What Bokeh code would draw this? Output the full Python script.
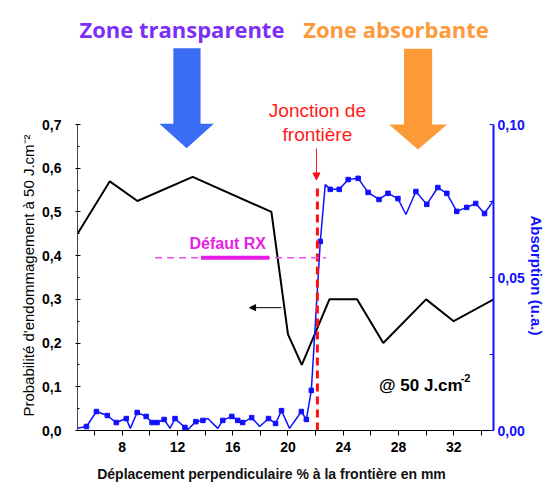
from bokeh.plotting import figure
from bokeh.models import (Range1d, LinearAxis, FixedTicker, CustomJSTickFormatter,
                          Label, Arrow, NormalHead)
from bokeh.embed import file_html
from bokeh.resources import INLINE

# ---------------- data ----------------
# damage probability at 50 J/cm2 (left axis)
prob_x = [4.76, 7.1, 9.1, 13.1, 18.8, 20.0, 21.0, 23.0, 25.0, 26.9, 30.0, 32.0, 34.9]
prob_y = [0.45, 0.57, 0.525, 0.58, 0.50, 0.22, 0.15, 0.30, 0.30, 0.20, 0.30, 0.25, 0.30]

# absorption (right axis)
abs_x = [4.76, 5.41, 6.13, 6.92, 7.57, 8.29, 8.58, 9.08, 9.73, 10.16, 10.52, 11.03, 11.46,
         11.82, 12.54, 12.76, 13.33, 13.84, 14.20, 14.92, 15.28, 15.93, 16.36, 16.72,
         17.37, 17.95, 18.59, 19.10, 19.53, 20.11, 20.97, 21.33, 21.69, 22.34, 22.70,
         23.06, 23.71, 24.36, 25.08, 25.80, 26.59, 27.24, 27.96, 28.54, 29.26, 30.05,
         30.85, 31.50, 32.22, 32.94, 33.59, 34.23, 34.88]
abs_y = [0.0007, 0.0013, 0.0062, 0.0049, 0.0026, 0.0039, 0.0007, 0.0059, 0.0046, 0.0026,
         0.0026, 0.0036, 0.0007, 0.0039, 0.0010, 0.0003, 0.0029, 0.0033, 0.0039, 0.0007,
         0.0033, 0.0046, 0.0033, 0.0026, 0.0042, 0.0013, 0.0039, 0.0023, 0.0065, 0.0007,
         0.0062, 0.0036, 0.0131, 0.0618, 0.0804, 0.0788, 0.0788, 0.0820, 0.0824, 0.0778,
         0.0755, 0.0775, 0.0758, 0.0706, 0.0781, 0.0739, 0.0794, 0.0775, 0.0716, 0.0729,
         0.0742, 0.0709, 0.0752]
abs_marker = [0, 1, 1, 1, 1, 1, 0, 1, 1, 1, 1, 1, 0, 1, 1, 0, 1, 1, 0, 0,
              1, 1, 1, 1, 1, 0, 1, 1, 1, 0, 1, 1, 1, 1, 0, 1, 1, 1, 1, 1,
              1, 1, 1, 0, 1, 1, 1, 1, 1, 1, 1, 1, 0]

x_major_ticks = [8, 12, 16, 20, 24, 28, 32]
x_minor_ticks = [6, 10, 14, 18, 22, 26, 30, 34]
left_ticks = [0.0, 0.1, 0.2, 0.3, 0.4, 0.5, 0.6, 0.7]
left_minor = [0.05, 0.15, 0.25, 0.35, 0.45, 0.55, 0.65]
right_ticks = [0.0, 0.05, 0.10]
right_minor = [0.025, 0.075]

junction_x = 22.13
defect_level = 0.395
defect_zone = (13.7, 18.65)

# ---------------- layout ----------------
W, H = 547, 485
BORDER_LEFT, BORDER_RIGHT, BORDER_BOTTOM = 77, 52, 55
frame_h = H - BORDER_BOTTOM
Y_TOP = 0.7 * frame_h / 306.0
A_TOP = 0.1 * frame_h / 306.0
EM = "\u2003"   # padding so that axis titles sit centred on the drawn axis span

FONT = "Liberation Sans"
BLUE = "#1010ff"
MAGENTA = "#e61ee6"

p = figure(width=W, height=H, output_backend="svg", toolbar_location=None,
           x_range=Range1d(4.76, 34.88), y_range=Range1d(0, Y_TOP),
           min_border_left=BORDER_LEFT, min_border_right=BORDER_RIGHT,
           min_border_top=0, min_border_bottom=BORDER_BOTTOM)
p.extra_y_ranges = {"abs": Range1d(0, A_TOP)}
p.outline_line_color = None
p.grid.visible = False
p.background_fill_color = "white"
p.border_fill_color = "white"

# x axis
xa = p.xaxis[0]
xa.ticker = FixedTicker(ticks=x_major_ticks, minor_ticks=x_minor_ticks)
xa.bounds = (4.76, 34.88)
xa.major_tick_in = 0
xa.major_tick_out = 5
xa.minor_tick_in = 0
xa.minor_tick_out = 5
xa.axis_line_color = "black"
xa.major_label_text_font = FONT
xa.major_label_text_font_style = "bold"
xa.major_label_text_font_size = "14px"
xa.major_label_text_color = "black"
xa.major_label_standoff = 6
xa.axis_label = "Déplacement perpendiculaire % à la frontière en mm" + EM * 2
xa.axis_label_text_font = FONT
xa.axis_label_text_font_style = "bold"
xa.axis_label_text_font_size = "14px"
xa.axis_label_text_color = "#111111"
xa.axis_label_standoff = 11

# left axis
ya = p.yaxis[0]
ya.ticker = FixedTicker(ticks=left_ticks, minor_ticks=left_minor)
ya.bounds = (0, 0.7)
ya.formatter = CustomJSTickFormatter(code="return tick.toFixed(1).replace('.', ',');")
ya.axis_line_color = "#444444"
ya.major_tick_in = 3
ya.major_tick_out = 2
ya.minor_tick_in = 2
ya.minor_tick_out = 0
ya.major_label_text_font = FONT
ya.major_label_text_font_style = "bold"
ya.major_label_text_font_size = "14px"
ya.major_label_text_color = "black"
ya.major_label_standoff = 14
ya.axis_label = "Probabilité d'endommagement à 50 J.cm⁻²" + EM * 8
ya.axis_label_text_font = FONT
ya.axis_label_text_font_style = "normal"
ya.axis_label_text_font_size = "15px"
ya.axis_label_text_color = "black"
ya.axis_label_standoff = 2

# right axis
ra = LinearAxis(y_range_name="abs", bounds=(0, 0.1),
                ticker=FixedTicker(ticks=right_ticks, minor_ticks=right_minor),
                formatter=CustomJSTickFormatter(code="return tick.toFixed(2).replace('.', ',');"))
ra.axis_line_color = BLUE
ra.axis_line_width = 2
ra.major_tick_line_color = BLUE
ra.minor_tick_line_color = BLUE
ra.major_tick_in = 4
ra.major_tick_out = 0
ra.minor_tick_in = 4
ra.minor_tick_out = 0
ra.major_label_text_font = FONT
ra.major_label_text_font_style = "bold"
ra.major_label_text_font_size = "14px"
ra.major_label_text_color = BLUE
ra.major_label_standoff = 4
ra.axis_label = EM * 8 + "Absorption (u.a.)"
ra.axis_label_text_font = FONT
ra.axis_label_text_font_style = "bold"
ra.axis_label_text_font_size = "15px"
ra.axis_label_text_color = BLUE
ra.axis_label_standoff = 0
p.add_layout(ra, "right")

# ---------------- series ----------------
p.line(prob_x, prob_y, line_color="black", line_width=2)

p.line(abs_x, abs_y, y_range_name="abs", line_color=BLUE, line_width=1.5)
mx = [x for x, m in zip(abs_x, abs_marker) if m]
my = [y for y, m in zip(abs_y, abs_marker) if m]
p.scatter(mx, my, y_range_name="abs", marker="square", size=4.5,
          fill_color=BLUE, line_color=BLUE)

# junction dashed line and pointer
p.segment(x0=[junction_x], y0=[0], x1=[junction_x], y1=[0.556],
          line_color="#ff1010", line_width=3, line_dash="8 5")
p.add_layout(Arrow(end=NormalHead(size=7, fill_color="#ff1010", line_color="#ff1010"),
                   x_start=22.06, y_start=0.645, x_end=22.06, y_end=0.573,
                   line_color="#ff1010", line_width=1))

# defect RX
p.segment(x0=[10.38], y0=[defect_level], x1=[22.77], y1=[defect_level],
          line_color="#f050f0", line_width=1.5, line_dash="7 5")
p.segment(x0=[defect_zone[0]], y0=[defect_level], x1=[defect_zone[1]], y1=[defect_level],
          line_color=MAGENTA, line_width=4)
p.add_layout(Label(x=15.64, y=0.428, text="Défaut RX", text_align="center",
                   text_baseline="middle", text_font=FONT, text_font_style="bold",
                   text_font_size="16px", text_color=MAGENTA))

# small black arrow pointing to left axis
p.add_layout(Arrow(end=NormalHead(size=6, fill_color="black", line_color="black"),
                   x_start=19.53, y_start=0.281, x_end=17.22, y_end=0.281,
                   line_color="black", line_width=1))

# zone arrows
blue_arrow = dict(x=[11.70, 13.67, 13.67, 14.63, 12.66, 10.69, 11.70],
                  y=[0.8746, 0.8746, 0.7017, 0.7017, 0.6459, 0.7017, 0.7017])
orange_arrow = dict(x=[28.40, 30.44, 30.44, 31.52, 29.41, 27.32, 28.40],
                    y=[0.8733, 0.8733, 0.7001, 0.7001, 0.6429, 0.7001, 0.7001])
p.patch(blue_arrow["x"], blue_arrow["y"], fill_color="#3a6cf6", line_color=None)
p.patch(orange_arrow["x"], orange_arrow["y"], fill_color="#fd9a38", line_color=None)

# zone titles
p.add_layout(Label(x=12.32, y=0.9174, text="Zone transparente", text_align="center",
                   text_baseline="alphabetic", text_font="Open Sans", text_font_style="bold",
                   text_font_size="22px", text_color="#7b2ff7"))
p.add_layout(Label(x=27.82, y=0.9174, text="Zone absorbante", text_align="center",
                   text_baseline="alphabetic", text_font="Open Sans", text_font_style="bold",
                   text_font_size="22px", text_color="#fd9a3c"))

# junction text
p.add_layout(Label(x=junction_x, y=0.732, text="Jonction de", text_align="center",
                   text_baseline="alphabetic", text_font=FONT, text_font_size="19px",
                   text_color="#ff1a1a"))
p.add_layout(Label(x=junction_x, y=0.677, text="frontière", text_align="center",
                   text_baseline="alphabetic", text_font=FONT, text_font_size="19px",
                   text_color="#ff1a1a"))

# fluence text
p.add_layout(Label(x=26.59, y=0.103, text="@ 50 J.cm", text_align="left",
                   text_baseline="alphabetic", text_font=FONT, text_font_style="bold",
                   text_font_size="17px", text_color="black"))
p.add_layout(Label(x=32.5, y=0.121, text="-2", text_align="left",
                   text_baseline="alphabetic", text_font=FONT, text_font_style="bold",
                   text_font_size="11px", text_color="black"))

open("out.html", "w").write(file_html(p, INLINE))
